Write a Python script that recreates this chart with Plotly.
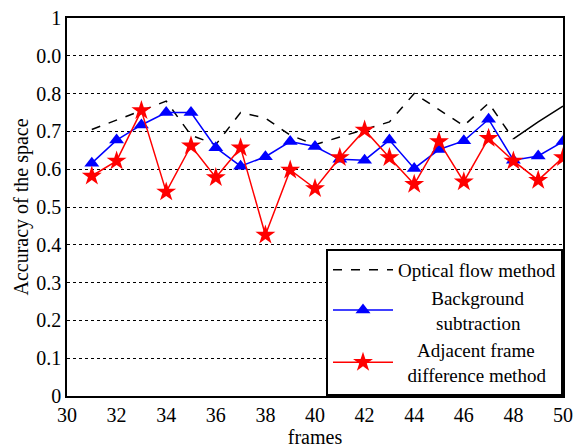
import plotly.graph_objects as go

frames = list(range(31, 51))
optical_flow = [0.705, 0.73, 0.755, 0.78, 0.69, 0.665, 0.75, 0.735, 0.69, 0.665,
                0.685, 0.705, 0.725, 0.80, 0.757, 0.715, 0.775, 0.68, 0.725, 0.767]
background_sub = [0.616, 0.677, 0.717, 0.750, 0.750, 0.657, 0.608, 0.633, 0.673, 0.660,
                  0.626, 0.624, 0.677, 0.602, 0.652, 0.675, 0.732, 0.624, 0.635, 0.673]
adjacent_diff = [0.582, 0.622, 0.755, 0.540, 0.662, 0.578, 0.657, 0.426, 0.598, 0.549,
                 0.631, 0.704, 0.631, 0.560, 0.673, 0.567, 0.682, 0.622, 0.571, 0.631]

y_ticks = [0, 0.1, 0.2, 0.3, 0.4, 0.5, 0.6, 0.7, 0.8, 0.9, 1]
y_ticktext = ["0", "0.1", "0.2", "0.3", "0.4", "0.5", "0.6", "0.7", "0.8", "0.0", "1"]
x_ticks = list(range(30, 51, 2))

serif = "Liberation Serif, Times New Roman, serif"
nb = "\u00a0"

fig = go.Figure()
fig.add_trace(go.Scatter(x=frames[:18], y=optical_flow[:18], mode="lines",
                         name="Optical flow method",
                         line=dict(color="black", width=1.5, dash="dash")))
fig.add_trace(go.Scatter(x=frames[17:], y=optical_flow[17:], mode="lines",
                         showlegend=False,
                         line=dict(color="black", width=1.5)))
fig.add_trace(go.Scatter(x=frames, y=background_sub, mode="lines+markers",
                         name=nb * 7 + "Background<br>" + nb * 8 + "subtraction",
                         line=dict(color="blue", width=1.5),
                         marker=dict(symbol="triangle-up", size=13, color="blue")))
fig.add_trace(go.Scatter(x=frames, y=adjacent_diff, mode="lines+markers",
                         name=nb * 4 + "Adjacent frame<br>" + nb * 2 + "difference method",
                         line=dict(color="red", width=1.5),
                         marker=dict(symbol="star", size=15, color="red")))

fig.update_layout(
    width=574, height=448,
    margin=dict(l=67, r=11, t=18, b=52),
    paper_bgcolor="white", plot_bgcolor="white",
    font=dict(family=serif, size=20, color="black"),
    legend=dict(x=1, y=0, xanchor="right", yanchor="bottom",
                bordercolor="black", borderwidth=2, bgcolor="white",
                font=dict(family=serif, size=19), tracegroupgap=0,
                itemwidth=60),
    xaxis=dict(range=[30, 50], tickvals=x_ticks, showgrid=False, zeroline=False,
               showline=True, linecolor="black", linewidth=1.5, mirror=True,
               ticks="", automargin=False,
               title=dict(text="frames", standoff=0,
                          font=dict(family=serif, size=20))),
    yaxis=dict(range=[0, 1], tickvals=y_ticks, ticktext=y_ticktext,
               showgrid=True, gridcolor="black", griddash="dot", gridwidth=1.3,
               zeroline=False, showline=True, linecolor="black", linewidth=1.5,
               mirror=True, ticks="", automargin=False,
               title=dict(text="Accuracy of the space", standoff=2,
                          font=dict(family=serif, size=20))),
)

fig.write_html(
    "out.html",
    config={"displayModeBar": False},
    post_script="document.body.style.margin='0';document.body.style.overflow='hidden';",
)
